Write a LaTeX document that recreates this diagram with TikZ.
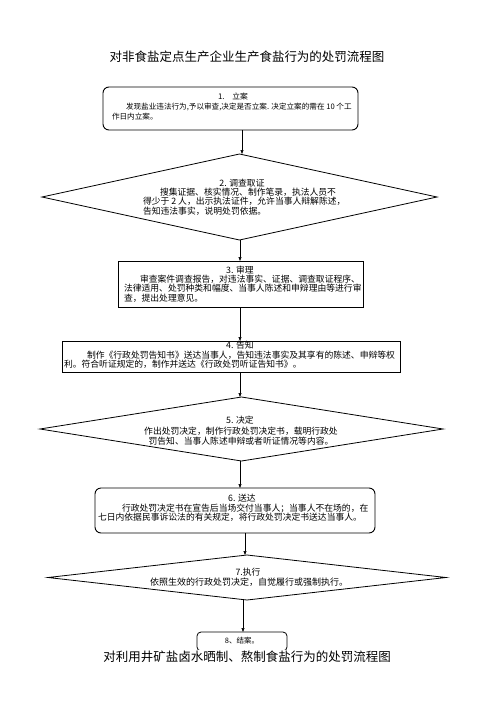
\documentclass[tikz,border=0pt]{standalone}
\usepackage{fontspec}
\newfontfamily\cjk{Noto Sans CJK SC}
\usetikzlibrary{shapes.geometric,arrows.meta}
\begin{document}
\begin{tikzpicture}[x=1pt,y=-1pt,
  every node/.style={inner sep=0pt,outer sep=0pt},
  titletext/.style={font=\cjk\fontsize{12.5}{14}\selectfont},
  bodytext/.style={font=\cjk\fontsize{8.8}{9.8}\selectfont,align=left,anchor=north west},
  headtext/.style={font=\cjk\fontsize{8.8}{9.8}\selectfont},
  rbox/.style={draw,line width=0.9pt,rounded corners=6pt},
  sbox/.style={draw,line width=0.9pt},
  dbox/.style={draw,line width=0.8pt,diamond},
  arr/.style={line width=0.6pt,-{Triangle[length=4pt,width=3pt]}}]
\useasboundingbox[fill=white] (0,0) rectangle (496,702);

\node[titletext] (title1) at (247,57) {对非食盐定点生产企业生产食盐行为的处罚流程图};

% 1
\node[rbox,minimum width=255pt,minimum height=43pt] (box1) at (230.5,108.5) {};
\node[font=\cjk\fontsize{7.8}{10}\selectfont] (t1) at (233,97) {1.\hspace{1em}立案};
\node[bodytext,font=\cjk\fontsize{7.6}{10}\selectfont] (b1) at (112,103) {\hspace*{14pt}发现盐业违法行为,予以审查,决定是否立案. 决定立案的需在 10 个工\\作日内立案。};

% 2
\node[dbox,minimum width=395pt,minimum height=86pt] (d2) at (239.5,197) {};
\node[headtext] (t2) at (242,183) {2. 调查取证};
\node[bodytext] (b2) at (143,187.6) {\hspace*{17pt}搜集证据、核实情况、制作笔录，执法人员不\\得少于 2 人，出示执法证件，允许当事人辩解陈述，\\告知违法事实，说明处罚依据。};

% 3
\node[sbox,minimum width=245pt,minimum height=46pt] (box3) at (240.5,284) {};
\node[headtext] (t3) at (240,270) {3. 审理};
\node[bodytext] (b3) at (124,274.6) {\hspace*{16pt}审查案件调查报告，对违法事实、证据、调查取证程序、\\法律适用、处罚种类和幅度、当事人陈述和申辩理由等进行审\\查，提出处理意见。};

% 4
\node[sbox,minimum width=338pt,minimum height=31pt] (box4) at (231,356.5) {};
\node[headtext] (t4) at (240,345) {4. 告知};
\node[bodytext] (b4) at (64,350.6) {\hspace*{23pt}制作《行政处罚告知书》送达当事人，告知违法事实及其享有的陈述、申辩等权\\利。符合听证规定的，制作并送达《行政处罚听证告知书》。};

% 5
\node[dbox,minimum width=403pt,minimum height=64pt] (d5) at (241.5,429) {};
\node[headtext] (t5) at (240,420) {5. 决定};
\node[headtext,align=center] (b5) at (241,436) {作出处罚决定，制作行政处罚决定书，载明行政处\\罚告知、当事人陈述申辩或者听证情况等内容。};

% 6
\node[rbox,minimum width=280pt,minimum height=45pt] (box6) at (235,510.5) {};
\node[headtext] (t6) at (242,498) {6. 送达};
\node[bodytext] (b6) at (98,503.6) {\hspace*{24pt}行政处罚决定书在宣告后当场交付当事人；当事人不在场的，在\\七日内依据民事诉讼法的有关规定，将行政处罚决定书送达当事人。};

% 7
\node[dbox,minimum width=398pt,minimum height=45pt] (d7) at (247,577.5) {};
\node[headtext] (t7) at (248,572) {7.执行};
\node[headtext,font=\cjk\fontsize{9}{10}\selectfont] (b7) at (249,582.5) {依照生效的行政处罚决定，自觉履行或强制执行。};

% 8
\node[rbox,rounded corners=4pt,minimum width=90pt,minimum height=19pt,line width=0.8pt] (box8) at (242,641.5) {};
\node[font=\cjk\fontsize{7.5}{9}\selectfont] (t8) at (242,640.5) {8、结案。};

\node[titletext,fill=white,inner ysep=0.5pt] (title2) at (247,656.5) {对利用井矿盐卤水晒制、熬制食盐行为的处罚流程图};

% connectors
\coordinate (xa) at (242,0);
\coordinate (xb) at (240,0);
\coordinate (xc) at (245,0);
\coordinate (xd) at (243,0);
\draw[arr] (box1.south -| xa) -- (d2.north -| xa);
\draw[arr] (d2.south -| xb) -- (box3.north -| xb);
\draw[arr] (box3.south -| xb) -- (box4.north -| xb);
\draw[arr] (box4.south -| xb) -- (d5.north -| xb);
\draw[arr] (d5.south -| xb) -- (box6.north -| xb);
\draw[arr] (box6.south -| xc) -- (d7.north -| xc);
\draw[arr] (d7.south -| xd) -- (box8.north -| xd);
\end{tikzpicture}
\end{document}
